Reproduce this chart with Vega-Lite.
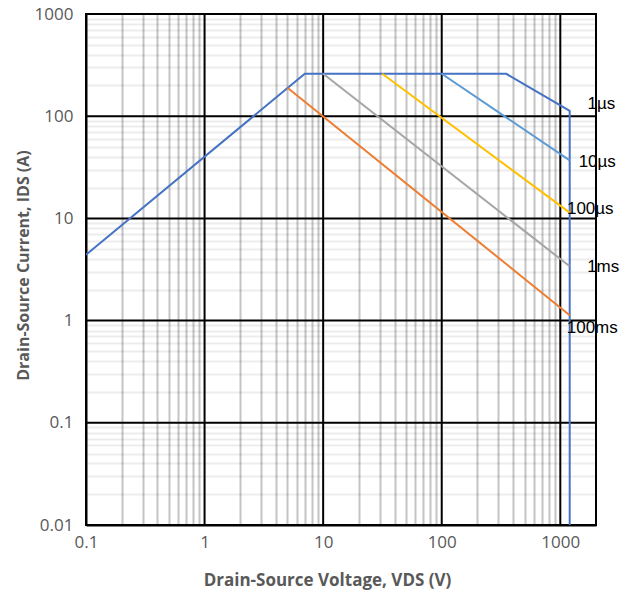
{
  "$schema": "https://vega.github.io/schema/vega-lite/v6.json",
  "width": 510,
  "height": 511,
  "autosize": {"type": "none"},
  "padding": {"left": 86, "top": 14, "right": 41, "bottom": 76},
  "background": "white",
  "config": {
    "view": {"stroke": "black", "strokeWidth": 2},
    "font": "Open Sans"
  },
  "encoding": {
    "x": {
      "field": "V", "type": "quantitative",
      "scale": {"type": "log", "domain": [0.1, 2000], "nice": false, "zero": false},
      "axis": {
        "title": "Drain-Source Voltage, VDS (V)",
        "values": [0.1,0.2,0.3,0.4,0.5,0.6,0.7,0.8,0.9,1,2,3,4,5,6,7,8,9,10,20,30,40,50,60,70,80,90,100,200,300,400,500,600,700,800,900,1000],
        "labelExpr": "indexof([0.1,1,10,100,1000], datum.value) >= 0 ? '' + datum.value : ''",
        "labelOverlap": false,
        "labelBound": false,
        "labelFlush": false,
        "grid": true,
        "gridColor": "#c4c4c4",
        "gridOpacity": {"condition": {"test": "indexof([0.1,1,10,100,1000], datum.value) >= 0", "value": 0}, "value": 1},
        "gridWidth": 2,
        "ticks": false,
        "domain": true,
        "domainColor": "black",
        "domainWidth": 2,
        "labelColor": "#595959",
        "labelFontSize": 17,
        "labelPadding": 9,
        "labelFont": "Open Sans",
        "titleFont": "Open Sans",
        "titleFontSize": 17,
        "titleFontWeight": "bold",
        "titleColor": "#595959",
        "titlePadding": 22,
        "titleX": 241
      }
    },
    "y": {
      "field": "I", "type": "quantitative",
      "scale": {"type": "log", "domain": [0.01, 1000], "nice": false, "zero": false},
      "axis": {
        "title": "Drain-Source Current, IDS (A)",
        "values": [0.01,0.02,0.03,0.04,0.05,0.06,0.07,0.08,0.09,0.1,0.2,0.3,0.4,0.5,0.6,0.7,0.8,0.9,1,2,3,4,5,6,7,8,9,10,20,30,40,50,60,70,80,90,100,200,300,400,500,600,700,800,900,1000],
        "labelExpr": "indexof([0.01,0.1,1,10,100,1000], datum.value) >= 0 ? '' + datum.value : ''",
        "labelOverlap": false,
        "labelBound": false,
        "labelFlush": false,
        "grid": true,
        "gridColor": "black",
        "gridOpacity": {"condition": {"test": "indexof([0.01,0.1,1,10,100,1000], datum.value) >= 0", "value": 0}, "value": 0.075},
        "gridWidth": 2,
        "ticks": false,
        "domain": true,
        "domainColor": "black",
        "domainWidth": 2,
        "labelColor": "#595959",
        "labelFontSize": 17,
        "labelPadding": 13,
        "labelFont": "Open Sans",
        "titleFont": "Open Sans",
        "titleFontSize": 16,
        "titleFontWeight": "bold",
        "titleColor": "#595959",
        "titlePadding": 3,
        "titleY": 251
      }
    }
  },
  "layer": [
    {
      "data": {"values": [{"I": 0.01}, {"I": 0.1}, {"I": 1}, {"I": 10}, {"I": 100}, {"I": 1000}]},
      "mark": {"type": "rule", "color": "black", "strokeWidth": 2},
      "encoding": {"x": null}
    },
    {
      "data": {"values": [{"V": 0.1}, {"V": 1}, {"V": 10}, {"V": 100}, {"V": 1000}]},
      "mark": {"type": "rule", "color": "black", "strokeWidth": 2},
      "encoding": {"y": null}
    },
    {
      "data": {
        "values": [
          {"series": "1µs", "o": 1, "V": 0.1, "I": 4.4},
          {"series": "1µs", "o": 2, "V": 7, "I": 260},
          {"series": "1µs", "o": 3, "V": 350, "I": 260},
          {"series": "1µs", "o": 4, "V": 1200, "I": 113},
          {"series": "1µs", "o": 5, "V": 1200, "I": 0.01},
          {"series": "10µs", "o": 1, "V": 100, "I": 260},
          {"series": "10µs", "o": 2, "V": 1200, "I": 37},
          {"series": "100µs", "o": 1, "V": 31.5, "I": 260},
          {"series": "100µs", "o": 2, "V": 1200, "I": 11.4},
          {"series": "1ms", "o": 1, "V": 10, "I": 260},
          {"series": "1ms", "o": 2, "V": 1200, "I": 3.4},
          {"series": "100ms", "o": 1, "V": 5, "I": 190},
          {"series": "100ms", "o": 2, "V": 1200, "I": 1.13}
        ]
      },
      "mark": {"type": "line", "strokeWidth": 2, "clip": true},
      "encoding": {
        "color": {
          "field": "series", "type": "nominal",
          "scale": {"domain": ["1µs", "10µs", "100µs", "1ms", "100ms"], "range": ["#4472C4", "#5B9BD5", "#FFC000", "#A5A5A5", "#ED7D31"]},
          "legend": null
        },
        "order": {"field": "o", "type": "quantitative"}
      }
    },
    {
      "data": {
        "values": [
          {"label": "1µs", "V": 2220, "I": 132},
          {"label": "10µs", "V": 2050, "I": 35.6},
          {"label": "100µs", "V": 1790, "I": 12.4},
          {"label": "1ms", "V": 2300, "I": 3.35},
          {"label": "100ms", "V": 1860, "I": 0.85}
        ]
      },
      "mark": {"type": "text", "fontSize": 17, "color": "black", "align": "center", "baseline": "middle", "font": "Liberation Sans"},
      "encoding": {
        "text": {"field": "label"}
      }
    }
  ]
}
